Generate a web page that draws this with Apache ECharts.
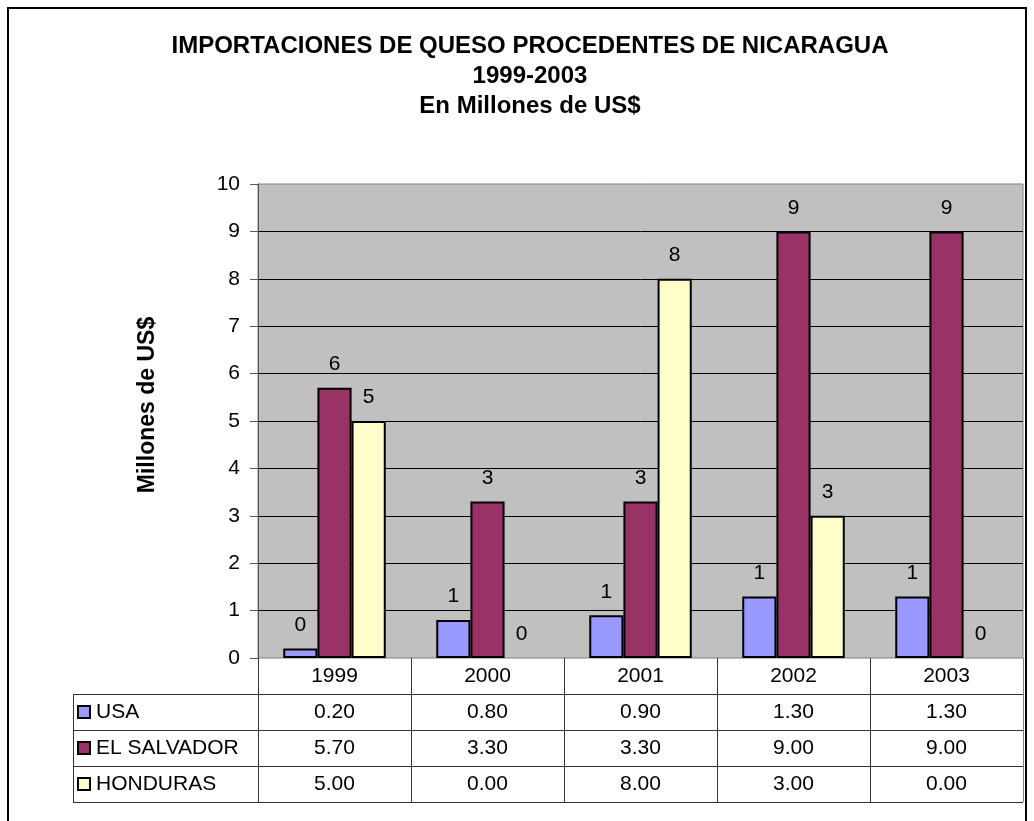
<!DOCTYPE html>
<html lang="es">
<head>
    <meta charset="UTF-8">
    <script src="https://cdn.jsdelivr.net/npm/echarts@6/dist/echarts.min.js"></script>
    <title>Importaciones de queso</title>
    <style>
        html, body { margin: 0; padding: 0; background: #fff; }
    </style>
</head>
<body>
<div id="main" style="width: 1034px;height:821px;"></div>

<script type="text/javascript">
    // datos
    var years = ['1999', '2000', '2001', '2002', '2003'];
    var usa = [0.20, 0.80, 0.90, 1.30, 1.30];
    var elSalvador = [5.70, 3.30, 3.30, 9.00, 9.00];
    var honduras = [5.00, 0.00, 8.00, 3.00, 0.00];
    var seriesNames = ['USA', 'EL SALVADOR', 'HONDURAS'];
    var colors = ['#9999FF', '#993366', '#FFFFCC'];

    var font = 'Arial, "Liberation Sans", sans-serif';

    // area del grafico (pixeles)
    var gLeft = 258, gTop = 184, gRight = 1023, gBottom = 658;
    var rowH = 36, tableLeft = 73;
    var colW = (gRight - gLeft) / years.length;

    var myChart = echarts.init(document.getElementById('main'));

    // tabla de datos debajo del grafico
    var rows = [usa, elSalvador, honduras];
    var graphics = [];
    graphics.push({
        type: 'rect', shape: {x: 8, y: 8, width: 1018, height: 830},
        style: {fill: 'none', stroke: '#000', lineWidth: 2}, silent: true
    });
    // titulo del eje Y (un poco por encima del centro, como en el original)
    graphics.push({
        type: 'text', x: 148, y: 405, rotation: Math.PI / 2,
        style: {text: 'Millones de US$', font: 'bold 23px ' + font, fill: '#000', align: 'center', verticalAlign: 'middle'},
        silent: true
    });
    var tableBottom = gBottom + rowH * 4;
    // lineas horizontales
    for (var r = 1; r <= 4; r++) {
        var y = Math.round(gBottom + rowH * r) + 0.5;
        graphics.push({
            type: 'line', shape: {x1: tableLeft, y1: y, x2: gRight, y2: y},
            style: {stroke: '#333', lineWidth: 1}, silent: true
        });
    }
    graphics.push({
        type: 'line', shape: {x1: tableLeft + 0.5, y1: gBottom + rowH, x2: tableLeft + 0.5, y2: tableBottom},
        style: {stroke: '#333', lineWidth: 1}, silent: true
    });
    for (var c = 0; c <= years.length; c++) {
        var x = Math.round(gLeft + colW * c) + 0.5;
        graphics.push({
            type: 'line', shape: {x1: x, y1: gBottom, x2: x, y2: tableBottom},
            style: {stroke: c === years.length ? '#808080' : '#333', lineWidth: 1}, silent: true
        });
    }
    // encabezado (años)
    years.forEach(function (yr, i) {
        graphics.push({
            type: 'text', x: gLeft + colW * (i + 0.5), y: gBottom + rowH * 0.5,
            style: {text: yr, font: '21px ' + font, fill: '#000', align: 'center', verticalAlign: 'middle'},
            silent: true
        });
    });
    // filas de valores
    rows.forEach(function (vals, r) {
        var cy = gBottom + rowH * (r + 1.5);
        graphics.push({
            type: 'rect', shape: {x: 78, y: cy - 6, width: 12, height: 12},
            style: {fill: colors[r], stroke: '#000', lineWidth: 2}, silent: true
        });
        graphics.push({
            type: 'text', x: 96, y: cy,
            style: {text: seriesNames[r], font: '21px ' + font, fill: '#000', align: 'left', verticalAlign: 'middle'},
            silent: true
        });
        vals.forEach(function (v, i) {
            graphics.push({
                type: 'text', x: gLeft + colW * (i + 0.5), y: cy,
                style: {text: v.toFixed(2), font: '21px ' + font, fill: '#000', align: 'center', verticalAlign: 'middle'},
                silent: true
            });
        });
    });

    var barLabel = {
        show: true,
        position: 'top',
        distance: 13,
        color: '#000',
        fontSize: 21,
        fontFamily: font,
        formatter: function (p) { return Math.round(p.value); }
    };

    // barras en cero: sin borde, como en Excel
    function barData(vals) {
        return vals.map(function (v) {
            return v === 0 ? {value: v, itemStyle: {borderWidth: 0}} : v;
        });
    }

    var option = {
        animation: false,
        backgroundColor: '#fff',
        title: {
            text: 'IMPORTACIONES DE QUESO PROCEDENTES DE NICARAGUA\n1999-2003\nEn Millones de US$',
            left: 525,
            textAlign: 'center',
            top: 26,
            textStyle: {
                fontFamily: font,
                fontWeight: 'bold',
                fontSize: 24,
                lineHeight: 30,
                color: '#000'
            }
        },
        grid: {
            left: gLeft,
            top: gTop,
            right: 1034 - gRight,
            bottom: 821 - gBottom,
            show: true,
            backgroundColor: '#C0C0C0',
            borderColor: '#808080',
            borderWidth: 1
        },
        xAxis: {
            type: 'category',
            data: years,
            axisLine: {show: false},
            axisTick: {show: false},
            axisLabel: {show: false}
        },
        yAxis: {
            type: 'value',
            min: 0,
            max: 10,
            interval: 1,
            axisLine: {show: true, lineStyle: {color: '#555', width: 1}},
            axisTick: {show: true, length: 8, lineStyle: {color: '#555'}},
            axisLabel: {fontFamily: font, fontSize: 21, color: '#000', margin: 18},
            splitLine: {show: true, showMinLine: false, showMaxLine: false, lineStyle: {color: '#000', width: 1}}
        },
        series: [
            {
                name: seriesNames[0], type: 'bar', data: barData(usa),
                barGap: 0, barCategoryGap: '33%',
                itemStyle: {color: colors[0], borderColor: '#000', borderWidth: 2},
                label: barLabel
            },
            {
                name: seriesNames[1], type: 'bar', data: barData(elSalvador),
                barGap: 0, barCategoryGap: '33%',
                itemStyle: {color: colors[1], borderColor: '#000', borderWidth: 2},
                label: barLabel
            },
            {
                name: seriesNames[2], type: 'bar', data: barData(honduras),
                barGap: 0, barCategoryGap: '33%',
                itemStyle: {color: colors[2], borderColor: '#000', borderWidth: 2},
                label: barLabel
            }
        ],
        graphic: graphics
    };

    myChart.setOption(option);
</script>
</body>
</html>
